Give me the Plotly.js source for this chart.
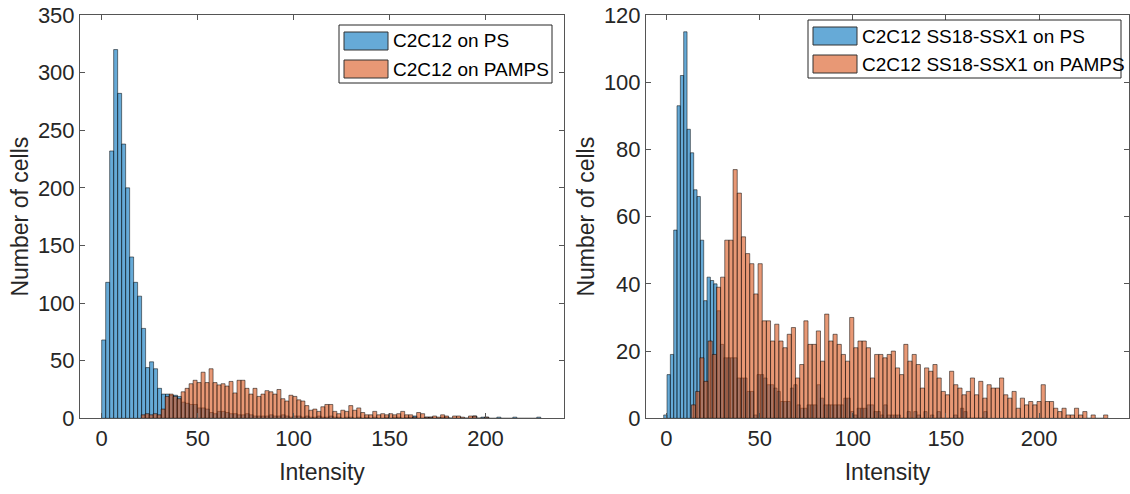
<!DOCTYPE html>
<html>
<head>
<meta charset="utf-8">
<script src="https://cdn.plot.ly/plotly-3.0.1.min.js"></script>
<style>html,body{margin:0;padding:0;background:#fff;}#chart{width:1130px;height:494px;}</style>
</head>
<body>
<div id="chart"></div>
<script>
// ---------- DATA ----------
// Left panel: C2C12
const leftBlueStart = 0;      // first bin left edge (intensity)
const leftBlueWidth = 2.08;   // bin width
const leftBlueCounts = [68,118,232,320,282,238,200,140,118,106,78,44,49,43,26,21,
  21,20,20,19,14,13,12,12,9,9,8,5,4,6,6,5,4,4,3,3,4,3,2,2,2,
  2,3,2,2,3,2,1,2,2,1,2,1,1,2,1,1,2,1,1,0,1,1,0,1,0,1,0,1,0,0,
  1,0,1,1,0,1,1,2,0,0,1,1,0,0,1,1,0,0,0,0,0,0,2,0,1,1,0,0,1,0,
  0,0,1,0,0,0,0,0,1];
const leftOrangeStart = 20.6;
const leftOrangeWidth = 2.08;
const leftOrangeCounts = [3,4,3,4,3,8,19,21,19,17,23,26,30,33,31,40,31,43,31,29,30,28,32,22,33,33,26,21,26,19,
  21,24,23,21,25,17,15,20,19,16,15,11,7,8,6,10,12,12,6,4,7,6,11,7,9,5,3,3,6,3,
  4,3,4,3,4,6,3,3,1,5,4,1,1,2,1,3,2,0,2,2,1,0,2,2,0,0,1];

// Right panel: C2C12 SS18-SSX1
const rightBlueStart = -1.5;
const rightBlueWidth = 1.79;
const rightBlueCounts = [1,13,19,56,93,102,115,86,79,68,66,53,35,42,41,40,32,22,18,18,18,18,12,12,12,8,8,1,
  13,13,12,10,10,9,8,5,5,5,9,10,4,3,3,4,4,4,10,6,4,4,4,4,4,4,6,6,2,1,3,3,3,4,4,2,2,
  1,4,1,1,1,1,0,0,2,0,2,1,0,2,0,1,0,2,0,0,0,0,1,0,3,2,0,0,0,0,0,2];
const rightOrangeStart = 13.4;
const rightOrangeWidth = 2.235;
const rightOrangeCounts = [4,8,18,11,23,19,39,42,53,53,74,67,54,49,46,37,46,29,29,23,28,23,21,25,27,12,16,29,22,22,
  26,17,31,23,25,22,19,17,30,21,23,23,21,12,19,19,
  18,19,20,15,13,22,17,19,16,9,15,14,16,12,8,7,14,10,9,7,8,12,7,11,6,10,9,9,12,7,
  6,8,3,6,4,5,4,5,10,5,5,3,2,3,1,1,3,1,2,0,1,0,0,1];

const labelsLeft = ['C2C12 on PS', 'C2C12 on PAMPS'];
const labelsRight = ['C2C12 SS18-SSX1 on PS', 'C2C12 SS18-SSX1 on PAMPS'];
const xTitle = 'Intensity';
const yTitle = 'Number of cells';

// ---------- STYLE ----------
const BLUE = 'rgba(0,114,189,0.6)';
const ORANGE = 'rgba(217,83,25,0.6)';
const EDGE = 'rgba(0,0,0,0.85)';
const FONT = '"Liberation Sans Narrow", "Liberation Sans", Arial, sans-serif';
const TXT = '#262626';
const W = 1130, H = 494;

function centers(start, width, counts) {
  return counts.map((_, i) => start + (i + 0.5) * width);
}
function barTrace(start, width, counts, color, xa, ya, name) {
  return {
    type: 'bar', x: centers(start, width, counts), y: counts, width: width,
    xaxis: xa, yaxis: ya, name: name, showlegend: false,
    marker: {color: color, line: {color: EDGE, width: 0.6}},
    hoverinfo: 'x+y'
  };
}

const data = [
  barTrace(leftBlueStart, leftBlueWidth, leftBlueCounts, BLUE, 'x', 'y', labelsLeft[0]),
  barTrace(leftOrangeStart, leftOrangeWidth, leftOrangeCounts, ORANGE, 'x', 'y', labelsLeft[1]),
  barTrace(rightBlueStart, rightBlueWidth, rightBlueCounts, BLUE, 'x2', 'y2', labelsRight[0]),
  barTrace(rightOrangeStart, rightOrangeWidth, rightOrangeCounts, ORANGE, 'x2', 'y2', labelsRight[1])
];

const px = v => v / W, py = v => 1 - v / H;

function axisCommon() {
  return {
    showline: true, linecolor: '#555', linewidth: 1, mirror: 'ticks',
    ticks: 'inside', ticklen: 5, tickcolor: '#555', tickwidth: 1,
    showgrid: false, zeroline: false,
    tickfont: {family: FONT, size: 22, color: TXT},
    automargin: false, fixedrange: true
  };
}

const yDomain = [py(418.3), py(15)];
const titleFont = {family: FONT, size: 23, color: TXT};
const layout = {
  width: W, height: H,
  margin: {l: 0, r: 0, t: 0, b: 0},
  paper_bgcolor: '#fff', plot_bgcolor: '#fff',
  barmode: 'overlay', showlegend: false,
  font: {family: FONT, color: TXT},
  xaxis: Object.assign(axisCommon(), {domain: [px(80), px(564)], range: [-11.3, 240.9], anchor: 'y',
    tickvals: [0, 50, 100, 150, 200], title: {text: xTitle, font: titleFont, standoff: 14}}),
  yaxis: Object.assign(axisCommon(), {domain: yDomain, range: [0, 350], anchor: 'x',
    tickvals: [0, 50, 100, 150, 200, 250, 300, 350], title: {text: yTitle, font: titleFont, standoff: 2}}),
  xaxis2: Object.assign(axisCommon(), {domain: [px(646), px(1129)], range: [-11.0, 248.3], anchor: 'y2',
    tickvals: [0, 50, 100, 150, 200], title: {text: xTitle, font: titleFont, standoff: 14}}),
  yaxis2: Object.assign(axisCommon(), {domain: yDomain, range: [0, 120], anchor: 'x2',
    tickvals: [0, 20, 40, 60, 80, 100, 120], title: {text: yTitle, font: titleFont, standoff: 2}}),
  shapes: [],
  annotations: []
};

// custom MATLAB-like legends (layout only)
function addLegend(x0, x1, y0, y1, labels) {
  layout.shapes.push({type: 'rect', xref: 'paper', yref: 'paper', x0: px(x0), x1: px(x1), y0: py(y1), y1: py(y0),
    line: {color: TXT, width: 1}, fillcolor: '#fff', layer: 'above'});
  const rows = [y0 + 7, y0 + 35];
  const cols = [BLUE, ORANGE];
  rows.forEach((r, i) => {
    layout.shapes.push({type: 'rect', xref: 'paper', yref: 'paper', x0: px(x0 + 5), x1: px(x0 + 49), y0: py(r + 18), y1: py(r),
      line: {color: '#333', width: 1}, fillcolor: cols[i], layer: 'above'});
    layout.annotations.push({xref: 'paper', yref: 'paper', x: px(x0 + 52), y: py(r + 9), xanchor: 'left', yanchor: 'middle',
      text: labels[i], showarrow: false, font: {family: FONT, size: 19, color: '#000'}});
  });
}
addLegend(339, 552, 25, 83, labelsLeft);
addLegend(808, 1121, 20, 78, labelsRight);

Plotly.newPlot('chart', data, layout, {displayModeBar: false, staticPlot: true});
</script>
</body>
</html>
